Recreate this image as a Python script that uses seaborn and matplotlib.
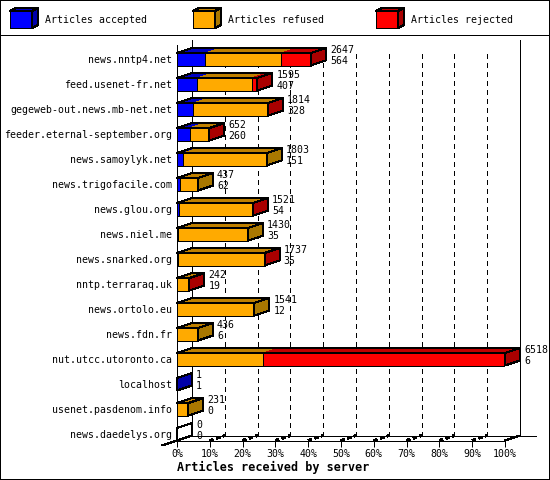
import matplotlib
matplotlib.use("Agg")
import matplotlib.pyplot as plt
import seaborn as sns
import pandas as pd
from matplotlib.patches import Polygon
from matplotlib.lines import Line2D

servers = ["news.nntp4.net", "feed.usenet-fr.net", "gegeweb-out.news.mb-net.net",
           "feeder.eternal-september.org", "news.samoylyk.net", "news.trigofacile.com",
           "news.glou.org", "news.niel.me", "news.snarked.org", "nntp.terraraq.uk",
           "news.ortolo.eu", "news.fdn.fr", "nut.utcc.utoronto.ca", "localhost",
           "usenet.pasdenom.info", "news.daedelys.org"]
accepted = [8.5, 6.1, 4.9, 3.9, 1.9, 0.9, 0.5, 0.2, 0.2, 0.1, 0.1, 0.05, 0.02, 0.02, 0.0, 0.0]
refused = [23.3, 16.7, 22.5, 5.9, 25.5, 5.5, 22.6, 21.5, 26.4, 3.6, 23.5, 6.35, 26.2, 0.0, 3.5, 0.0]
rejected = [9.0, 1.7, 0.4, 0.1, 0.0, 0.0, 0.1, 0.0, 0.1, 0.1, 0.0, 0.0, 73.78, 0.0, 0.0, 0.0]
offered_labels = [2647, 1595, 1814, 652, 1803, 437, 1521, 1430, 1737, 242, 1541, 436, 6518, 1, 231, 0]
accepted_labels = [564, 407, 328, 260, 151, 62, 54, 35, 35, 19, 12, 6, 6, 1, 0, 0]
percent_ticks = list(range(0, 101, 10))
series_names = ["Articles accepted", "Articles refused", "Articles rejected"]
x_title = "Articles received by server"

FRONT = ["#0000FF", "#FFAA00", "#FF0000"]
TOP = ["#0000C0", "#BF8000", "#C00000"]
SIDE = ["#0000AA", "#AA7800", "#AA0000"]

W, H = 550, 480
PX = 0.72  # one pixel in points at 100 dpi
FS = 7.15
sns.set_theme(style="white")
plt.rcParams.update({
    "font.family": ["DejaVu Sans Mono"],
    "font.size": FS,
    "xtick.labelsize": FS,
    "ytick.labelsize": FS,
    "text.color": "black",
    "axes.labelcolor": "black",
    "xtick.color": "black",
    "ytick.color": "black",
    "lines.scale_dashes": False,
})

fig = plt.figure(figsize=(W / 100, H / 100), dpi=100, facecolor="white",
                 edgecolor="black", linewidth=2 * PX)
ax = fig.add_axes([177 / W, 1 - 440.5 / H, 328 / W, 395.5 / H], facecolor="none")

df = pd.DataFrame({"server": servers, "a": accepted, "r": refused, "x": rejected})
df["c1"] = df["a"]
df["c2"] = df["a"] + df["r"]
df["c3"] = df["c2"] + df["x"]

bar_kw = dict(data=df, y="server", order=servers, orient="y", width=0.5, saturation=1,
              edgecolor="black", linewidth=PX, ax=ax, zorder=3)
sns.barplot(x="c3", color=FRONT[2], **bar_kw)
sns.barplot(x="c2", color=FRONT[1], **bar_kw)
sns.barplot(x="c1", color=FRONT[0], **bar_kw)
for p in ax.patches:
    p.set_antialiased(False)

ax.set_xlim(0, 100)
ax.set_ylim(15.25, -0.57)
DX = 15 / 3.28   # depth of the 3D effect in data units
DY = 0.2
ax.set_xticks(percent_ticks)
ax.set_xticklabels([f"{t}%" for t in percent_ticks])
ax.tick_params(axis="x", length=4.3, width=PX, pad=2, direction="out", bottom=True)
ax.tick_params(axis="y", length=0, pad=3.5)
ax.set_ylabel("")
ax.set_xlabel(x_title, fontweight="bold", fontsize=8.5, x=(273 - 177) / 328, labelpad=1.5)
for s in ("top", "right"):
    ax.spines[s].set_visible(False)
for s in ("left", "bottom"):
    ax.spines[s].set_linewidth(PX)
    ax.spines[s].set_color("black")
    ax.spines[s].set_zorder(2)

# back wall and floor
line_kw = dict(color="black", lw=PX, clip_on=False, antialiased=False, zorder=1)
ax.plot([DX, DX], [15.25 - DY, -0.77], **line_kw)
ax.plot([100 + DX, 100 + DX], [15.25 - DY, -0.77], **line_kw)
ax.plot([DX, 109.5], [15.25 - DY, 15.25 - DY], **line_kw)
ax.plot([-DX, DX], [15.25 + DY, 15.25 - DY], **line_kw)
ax.plot([100, 100 + DX], [15.25, 15.25 - DY], **line_kw)
for t in percent_ticks[1:-1]:
    ax.plot([t + DX, t + DX], [15.25 - DY, -0.4], color="black", lw=PX, ls=(0, (2.9, 2.9)),
            clip_on=False, antialiased=False, zorder=1)
    ax.plot([t, t + DX], [15.25, 15.25 - DY], color="black", lw=1.2, ls=(0, (2.2, 2.2)),
            clip_on=False, antialiased=False, zorder=1)

# 3D faces
for k in range(len(servers)):
    vals = [accepted[k], refused[k], rejected[k]]
    yt, yb = k - 0.25, k + 0.25
    start = 0.0
    last = None
    for i, v in enumerate(vals):
        if v > 0:
            ax.add_patch(Polygon([(start, yt), (start + v, yt), (start + v + DX, yt - DY), (start + DX, yt - DY)],
                                 closed=True, facecolor=TOP[i], edgecolor="none", clip_on=False,
                                 antialiased=False, zorder=3))
            start += v
            last = i
    end = start
    ax.add_patch(Polygon([(0, yt), (end, yt), (end + DX, yt - DY), (DX, yt - DY)], closed=True,
                         facecolor="none", edgecolor="black", lw=PX, clip_on=False,
                         antialiased=False, zorder=3.2))
    side = "white" if last is None else SIDE[last]
    ax.add_patch(Polygon([(end, yt), (end + DX, yt - DY), (end + DX, yb - DY), (end, yb)], closed=True,
                         facecolor=side, edgecolor="black", lw=PX, clip_on=False,
                         antialiased=False, zorder=3.2))
    ax.annotate(str(offered_labels[k]), xy=(end + DX, k), xytext=(4 * PX, 9 * PX),
                textcoords="offset points", va="center", ha="left", annotation_clip=False, zorder=4)
    ax.annotate(str(accepted_labels[k]), xy=(end + DX, k), xytext=(4 * PX, -2 * PX),
                textcoords="offset points", va="center", ha="left", annotation_clip=False, zorder=4)

# legend band
fig.add_artist(Line2D([0, 1], [1 - 35 / H] * 2, transform=fig.transFigure, color="black",
                      lw=PX, antialiased=False))

def fpt(x, y):
    return (x / W, 1 - y / H)

for i, (x0, tx, name) in enumerate(zip([10, 193, 376], [45, 228, 411], series_names)):
    x1 = x0 + 22
    yt, yb = 11, 28
    d, e = 6, 3
    kw = dict(closed=True, edgecolor="black", lw=PX, transform=fig.transFigure, antialiased=False)
    fig.add_artist(Polygon([fpt(x0, yt), fpt(x1, yt), fpt(x1, yb), fpt(x0, yb)], facecolor=FRONT[i], **kw))
    fig.add_artist(Polygon([fpt(x0, yt), fpt(x1, yt), fpt(x1 + d, yt - e), fpt(x0 + d, yt - e)], facecolor=TOP[i], **kw))
    fig.add_artist(Polygon([fpt(x1, yt), fpt(x1 + d, yt - e), fpt(x1 + d, yb - e), fpt(x1, yb)], facecolor=SIDE[i], **kw))
    fig.text(tx / W, 1 - 20 / H, name, ha="left", va="center")

fig.savefig("out.png", dpi=100)
